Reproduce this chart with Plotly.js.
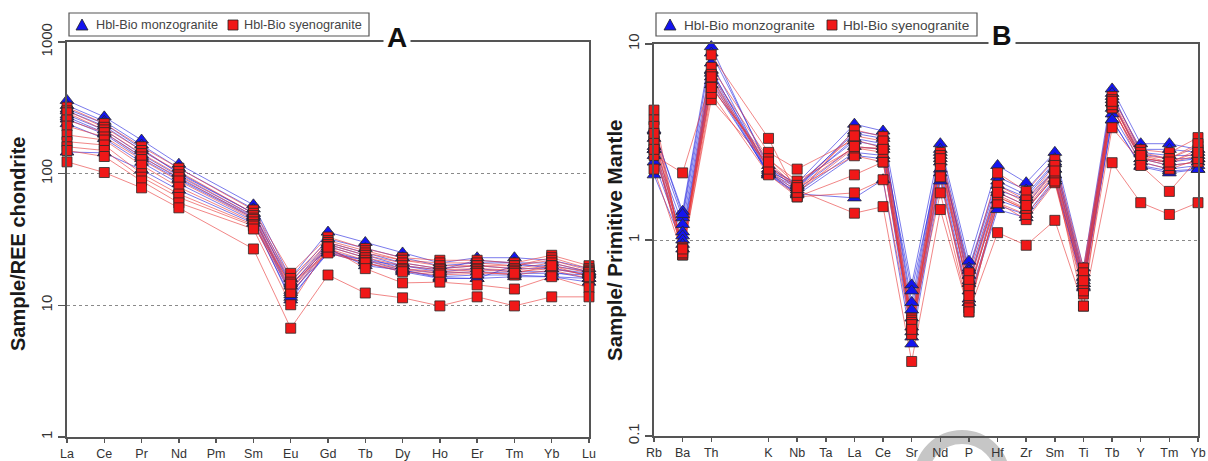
<!DOCTYPE html>
<html>
<head>
<meta charset="utf-8">
<script src="https://cdn.plot.ly/plotly-3.0.1.min.js"></script>
<style>html,body{margin:0;padding:0;background:#fff;}#chart{width:1208px;height:461px;}</style>
</head>
<body>
<div id="chart"></div>
<script>
// ---------- categories ----------
const REE = ['La','Ce','Pr','Nd','Pm','Sm','Eu','Gd','Tb','Dy','Ho','Er','Tm','Yb','Lu'];
const SPIDER = ['Rb','Ba','Th','U','K','Nb','Ta','La','Ce','Sr','Nd','P','Hf','Zr','Sm','Ti','Tb','Y','Tm','Yb'];
const SPIDER_TICKS = ['Rb','Ba','Th','K','Nb','Ta','La','Ce','Sr','Nd','P','Hf','Zr','Sm','Ti','Tb','Y','Tm','Yb'];
const REE_TICKS = [1, 10, 100, 1000];
const PM_TICKS = [0.1, 1, 10];

// ---------- A: chondrite-normalised REE (Pm = null) ----------
// Hbl-Bio monzogranite
const mzA1 = [360, 270, 180, 118, null, 58, 16, 36, 30, 25, 21, 23, 23, 22, 19];
const mzA2 = [330, 250, 165, 110, null, 54, 15, 32, 27, 23, 20, 21, 21, 21, 18];
const mzA3 = [300, 230, 150, 102, null, 50, 14, 30, 25, 21, 19, 20, 19, 19, 17];
const mzA4 = [280, 215, 140, 96, null, 48, 13, 29, 24, 20, 18, 19, 18, 18, 16];
const mzA5 = [260, 200, 130, 90, null, 46, 12, 28, 23, 19, 17.5, 18, 17.5, 17.5, 17];
const mzA6 = [240, 185, 122, 84, null, 44, 11, 26, 22, 18.5, 16.5, 17, 17, 16.5, 15];
const mzA7 = [146, 144, 107, 75, null, 42, 11.5, 25, 21, 18, 16, 16, 16.5, 16.5, 16];
const mzA8 = [310, 240, 155, 100, null, 50, 14.5, 27, 20, 18.5, 16.2, 16, 20, 20, 18];
const mzA9 = [270, 205, 135, 92, null, 47, 12.5, 25, 22, 20, 18.6, 22, 21, 19, 17.5];
// Hbl-Bio syenogranite
const syA1 = [320, 240, 160, 110, null, 53, 17.5, 33, 27, 23, 22, 22, 21, 24, 20];
const syA2 = [300, 225, 150, 104, null, 50, 16, 31, 26, 22, 21, 21, 20, 23, 19];
const syA3 = [290, 215, 142, 98, null, 48, 15, 30, 25, 22, 20, 20, 20, 22, 18.5];
const syA4 = [256, 205, 134, 94, null, 46, 14, 29, 24, 21, 19, 20, 19, 21, 18];
const syA5 = [230, 190, 128, 88, null, 45, 13.5, 28, 23, 20, 18.6, 19, 18.5, 20, 17.7];
const syA6 = [197, 180, 116, 79, null, 43, 13, 27, 22, 19, 18, 18.6, 18, 19, 17];
const syA7 = [175, 165, 100, 70, null, 41, 12.5, 26, 21, 18.6, 17.5, 18, 17, 18.5, 16];
const syA8 = [160, 150, 94, 66, null, 40, 14.5, 25, 21, 18, 17, 17.5, 17.5, 20, 16.5];
const syA9 = [150, 135, 88, 60, null, 38, 10.1, 27.7, 19, 14.8, 15, 14.3, 13.3, 16.5, 13.6];
const syA10 = [123, 102, 78, 55, null, 26.8, 6.7, 17, 12.4, 11.4, 9.9, 11.6, 9.9, 11.6, 11.6];

// ---------- B: primitive-mantle normalised (U, Ta = null) ----------
const mzB1 = [3.6, 1.40, 9.7, null, 2.3, 1.95, null, 3.9, 3.6, 0.59, 3.1, 0.78, 2.4, 1.96, 2.8, 0.72, 5.9, 3.1, 3.1, 2.9];
const mzB2 = [3.3, 1.30, 8.0, null, 2.25, 1.9, null, 3.5, 3.3, 0.48, 2.9, 0.72, 2.1, 1.8, 2.6, 0.68, 5.4, 2.9, 2.9, 2.8];
const mzB3 = [3.0, 1.2, 7.4, null, 2.2, 1.85, null, 3.3, 3.1, 0.40, 2.7, 0.66, 1.9, 1.65, 2.45, 0.64, 5.0, 2.75, 2.6, 2.6];
const mzB4 = [2.9, 1.1, 7.1, null, 2.18, 1.8, null, 3.0, 2.9, 0.36, 2.5, 0.6, 1.75, 1.5, 2.3, 0.6, 4.7, 2.6, 2.4, 2.5];
const mzB5 = [2.7, 1.05, 6.8, null, 2.15, 1.75, null, 2.8, 2.7, 0.34, 2.3, 0.55, 1.6, 1.42, 2.15, 0.58, 4.4, 2.5, 2.3, 2.4];
const mzB6 = [2.5, 1.0, 6.5, null, 2.15, 1.7, null, 2.7, 2.6, 0.32, 2.2, 0.5, 1.5, 1.35, 2.05, 0.57, 4.1, 2.4, 2.25, 2.3];
const mzB7 = [2.15, 0.95, 6.2, null, 2.2, 1.72, null, 1.64, 2.03, 0.295, 2.0, 0.48, 1.43, 1.3, 2.0, 0.6, 4.1, 2.37, 2.2, 2.29];
const mzB8 = [3.65, 1.35, 9.0, null, 2.4, 1.9, null, 3.2, 3.0, 0.55, 2.6, 0.7, 2.0, 1.7, 2.5, 0.65, 5.6, 2.8, 2.7, 2.7];
const mzB9 = [2.9, 0.9, 7.3, null, 2.3, 1.85, null, 3.6, 3.4, 0.44, 2.8, 0.62, 1.8, 1.6, 2.3, 0.62, 5.2, 2.6, 2.5, 2.6];
const syB1 = [4.6, 0.84, 8.8, null, 3.3, 1.7, null, 3.65, 3.37, 0.40, 2.8, 0.68, 2.2, 1.77, 2.57, 0.72, 5.4, 2.89, 2.79, 3.33];
const syB2 = [4.1, 0.88, 7.6, null, 2.8, 2.3, null, 3.25, 2.95, 0.36, 2.57, 0.6, 1.85, 1.55, 2.29, 0.65, 5.0, 2.7, 2.6, 3.0];
const syB3 = [3.4, 0.92, 6.0, null, 2.57, 2.0, null, 2.95, 2.95, 0.34, 2.5, 0.54, 1.66, 1.43, 2.1, 0.59, 4.72, 2.63, 2.48, 2.89];
const syB4 = [3.06, 0.84, 5.2, null, 2.42, 1.85, null, 2.69, 2.5, 0.39, 2.1, 0.48, 1.55, 1.27, 1.96, 0.53, 3.74, 2.5, 2.3, 2.57];
const syB5 = [2.7, 2.2, 6.6, null, 2.28, 1.66, null, 2.15, 2.5, 0.36, 1.74, 0.43, 1.66, 1.43, 2.1, 0.46, 5.0, 2.63, 2.48, 2.7];
const syB6 = [2.3, 0.84, 5.6, null, 2.15, 1.66, null, 1.74, 2.03, 0.33, 2.1, 0.45, 1.55, 1.35, 2.0, 0.55, 4.72, 2.6, 2.4, 2.5];
const syB7 = [3.2, 0.86, 6.3, null, 2.4, 1.8, null, 1.37, 1.48, 0.24, 1.43, 0.43, 1.09, 0.94, 1.26, 0.46, 2.48, 1.55, 1.35, 1.55];
const syB8 = [3.8, 0.9, 7.0, null, 2.6, 1.9, null, 3.4, 3.2, 0.38, 2.7, 0.62, 1.9, 1.6, 2.4, 0.68, 5.2, 2.8, 2.6, 3.1];
const syB9 = [2.9, 0.86, 6.8, null, 2.3, 1.75, null, 2.95, 2.8, 0.37, 2.4, 0.56, 1.7, 1.45, 2.2, 0.6, 4.9, 2.4, 1.77, 2.6];
const syB10 = [3.5, 0.9, 6.0, null, 2.5, 1.85, null, 3.0, 2.9, 0.35, 2.6, 0.52, 1.75, 1.5, 2.25, 0.62, 5.1, 2.7, 2.5, 2.8];

const MONZO_A = [mzA1, mzA2, mzA3, mzA4, mzA5, mzA6, mzA7, mzA8, mzA9];
const SYENO_A = [syA1, syA2, syA3, syA4, syA5, syA6, syA7, syA8, syA9, syA10];
const MONZO_B = [mzB1, mzB2, mzB3, mzB4, mzB5, mzB6, mzB7, mzB8, mzB9];
const SYENO_B = [syB1, syB2, syB3, syB4, syB5, syB6, syB7, syB8, syB9, syB10];
const LEGEND_NAMES = ['Hbl-Bio monzogranite', 'Hbl-Bio syenogranite'];

// ---------- styling ----------
const W = 1208, H = 461;
const FONT = 'Liberation Sans, Arial, sans-serif';
const AX = '#555555';
const BLUE_LINE = 'rgba(40,40,225,0.62)';
const RED_LINE = 'rgba(232,60,60,0.62)';
const BLUE = '#1414f0';
const RED = '#f01818';
const px = x => x / W;
const py = y => 1 - y / H;

function lineTraces(rows, labels, color, xa, ya) {
  return rows.map(r => ({
    type: 'scatter', mode: 'lines', x: labels.map((_, i) => i), y: r,
    connectgaps: true, line: {color: color, width: 1},
    xaxis: xa, yaxis: ya, showlegend: false, hoverinfo: 'skip', cliponaxis: false
  }));
}
function markerTraces(rows, labels, symbol, fill, size, xa, ya) {
  return rows.map(r => ({
    type: 'scatter', mode: 'markers', x: labels.map((_, i) => i), y: r,
    marker: {symbol: symbol, color: fill, size: size, line: {color: '#2a2a2a', width: 0.8}},
    xaxis: xa, yaxis: ya, showlegend: false, cliponaxis: false
  }));
}

const data = [].concat(
  lineTraces(MONZO_A, REE, BLUE_LINE, 'x', 'y'),
  lineTraces(SYENO_A, REE, RED_LINE, 'x', 'y'),
  markerTraces(MONZO_A, REE, 'triangle-up', BLUE, 12, 'x', 'y'),
  markerTraces(SYENO_A, REE, 'square', RED, 10, 'x', 'y'),
  lineTraces(MONZO_B, SPIDER, BLUE_LINE, 'x2', 'y2'),
  lineTraces(SYENO_B, SPIDER, RED_LINE, 'x2', 'y2'),
  markerTraces(MONZO_B, SPIDER, 'triangle-up', BLUE, 12, 'x2', 'y2'),
  markerTraces(SYENO_B, SPIDER, 'square', RED, 10, 'x2', 'y2')
);

function xAxis(labels, ticks, domain) {
  return {
    domain: domain, range: [0, labels.length - 1], showgrid: false, zeroline: false,
    showline: true, linecolor: AX, linewidth: 2, mirror: true,
    ticks: 'outside', ticklen: 4, tickwidth: 1.5, tickcolor: AX,
    tickvals: ticks.map(t => labels.indexOf(t)), ticktext: ticks,
    tickfont: {family: FONT, size: 12.5, color: '#333'}, fixedrange: true
  };
}
function yAxis(vals, domain, anchor) {
  return {
    type: 'log', domain: domain, anchor: anchor,
    range: [Math.log10(vals[0]), Math.log10(vals[vals.length - 1])],
    tickvals: vals, ticktext: vals.map(String), tickangle: -90,
    showline: true, linecolor: AX, linewidth: 2, mirror: true,
    ticks: 'outside', ticklen: 7, tickwidth: 1.5, tickcolor: AX,
    showgrid: true, gridcolor: '#8a8a8a', gridwidth: 1, griddash: 'dot',
    zeroline: false, tickfont: {family: FONT, size: 15, color: '#333'}, fixedrange: true
  };
}

function legendParts(box, tri, t1, sq, t2, fs) {
  const shapes = [
    {type: 'rect', xref: 'paper', yref: 'paper', x0: px(box[0]), x1: px(box[1]), y0: py(box[3]), y1: py(box[2]),
     line: {color: '#555', width: 1.2}, fillcolor: 'white'},
    {type: 'path', xref: 'paper', yref: 'paper',
     path: `M ${px(tri[0]-6)} ${py(tri[1]+5)} L ${px(tri[0]+6)} ${py(tri[1]+5)} L ${px(tri[0])} ${py(tri[1]-6)} Z`,
     fillcolor: BLUE, line: {color: '#222', width: 0.8}},
    {type: 'rect', xref: 'paper', yref: 'paper', x0: px(sq[0]-5), x1: px(sq[0]+5), y0: py(sq[1]+5), y1: py(sq[1]-5),
     fillcolor: RED, line: {color: '#222', width: 0.8}}
  ];
  const ann = [
    {text: LEGEND_NAMES[0], x: px(t1), y: py(tri[1]), xref: 'paper', yref: 'paper', xanchor: 'left', yanchor: 'middle',
     showarrow: false, font: {family: FONT, size: fs, color: '#444'}},
    {text: LEGEND_NAMES[1], x: px(t2), y: py(sq[1]), xref: 'paper', yref: 'paper', xanchor: 'left', yanchor: 'middle',
     showarrow: false, font: {family: FONT, size: fs, color: '#444'}}
  ];
  return {shapes, ann};
}
const legA = legendParts([69, 369, 13, 36], [82, 25], 94, [233, 25], 242, 12.7);
const legB = legendParts([656, 977, 13, 36], [670, 25], 682, [832, 25], 841, 13.6);

const layout = {
  width: W, height: H, margin: {l: 0, r: 0, t: 0, b: 0},
  paper_bgcolor: 'white', plot_bgcolor: 'white', showlegend: false,
  font: {family: FONT},
  xaxis: xAxis(REE, REE, [px(67), px(589)]),
  yaxis: yAxis(REE_TICKS, [py(437), py(42)], 'x'),
  xaxis2: Object.assign(xAxis(SPIDER, SPIDER_TICKS, [px(654), px(1198)]), {anchor: 'y2'}),
  yaxis2: yAxis(PM_TICKS, [py(436), py(44)], 'x2'),
  shapes: [
    {type: 'circle', xref: 'paper', yref: 'paper', layer: 'below',
     x0: px(921), x1: px(1003), y0: py(519), y1: py(437),
     line: {color: '#c6c6c6', width: 14}, fillcolor: 'rgba(0,0,0,0)'}
  ].concat(legA.shapes, legB.shapes),
  annotations: [
    {text: '<b>Sample/REE chondrite</b>', textangle: -90, x: px(18), y: py(244), xref: 'paper', yref: 'paper',
     xanchor: 'center', yanchor: 'middle',
     showarrow: false, font: {family: FONT, size: 20, color: '#1a1a1a'}},
    {text: '<b>Sample/ Primitive Mantle</b>', textangle: -90, x: px(615), y: py(240), xref: 'paper', yref: 'paper',
     xanchor: 'center', yanchor: 'middle',
     showarrow: false, font: {family: FONT, size: 20.5, color: '#1a1a1a'}},
    {text: '<b>A</b>', x: px(397), y: py(37), xref: 'paper', yref: 'paper', showarrow: false,
     xanchor: 'center', yanchor: 'middle',
     bgcolor: 'white', borderpad: 3, font: {family: FONT, size: 28, color: '#111'}},
    {text: '<b>B</b>', x: px(1002), y: py(36), xref: 'paper', yref: 'paper', showarrow: false,
     xanchor: 'center', yanchor: 'middle',
     bgcolor: 'white', borderpad: 3, font: {family: FONT, size: 27, color: '#111'}}
  ].concat(legA.ann, legB.ann)
};

Plotly.newPlot('chart', data, layout, {staticPlot: true, displayModeBar: false});
</script>
</body>
</html>
